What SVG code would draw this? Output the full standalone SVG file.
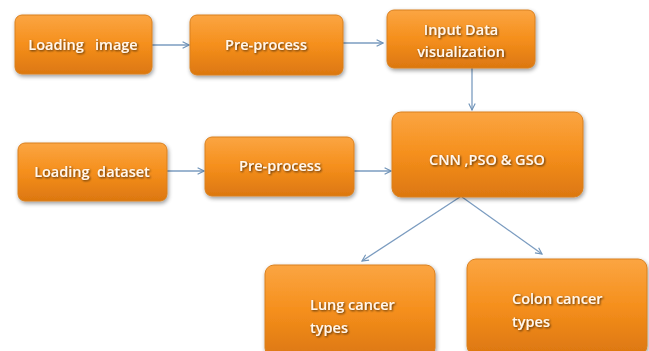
<svg xmlns="http://www.w3.org/2000/svg" width="649" height="351" viewBox="0 0 649 351">
<defs>
<linearGradient id="og" x1="0" y1="0" x2="0" y2="1">
<stop offset="0" stop-color="#fba542"/>
<stop offset="0.5" stop-color="#f58f1c"/>
<stop offset="1" stop-color="#dc7710"/>
</linearGradient>
<filter id="sh" x="-10%" y="-10%" width="125%" height="130%">
<feGaussianBlur in="SourceAlpha" stdDeviation="2"/>
<feOffset dx="1" dy="2" result="b"/>
<feComponentTransfer><feFuncA type="linear" slope="0.4"/></feComponentTransfer>
<feMerge><feMergeNode/><feMergeNode in="SourceGraphic"/></feMerge>
</filter>
<filter id="ts" x="-10%" y="-20%" width="120%" height="150%">
<feGaussianBlur in="SourceAlpha" stdDeviation="0.8"/>
<feOffset dx="0.5" dy="1" result="b"/>
<feComponentTransfer><feFuncA type="linear" slope="0.7"/></feComponentTransfer>
<feMerge><feMergeNode/><feMergeNode in="SourceGraphic"/></feMerge>
</filter>
<marker id="ah" viewBox="0 0 10 10" refX="9" refY="5" markerWidth="8" markerHeight="8" orient="auto" markerUnits="userSpaceOnUse">
<path d="M1,1 L9,5 L1,9" fill="none" stroke="#6f93b8" stroke-width="1.4"/>
</marker>
</defs>
<style>
.box{fill:url(#og);stroke:#d9801f;stroke-width:1;filter:url(#sh)}
.t{font-family:"Open Sans","Liberation Sans",sans-serif;font-size:14.5px;font-weight:600;fill:#fff7ee;filter:url(#ts)}
.c{text-anchor:middle}
.con{stroke:#7b9cc0;stroke-width:1.3;fill:none;marker-end:url(#ah)}
</style>
<rect width="649" height="351" fill="#ffffff"/>
<g id="connectors">
<line class="con" x1="152" y1="45" x2="189" y2="45"/>
<line class="con" x1="343" y1="43" x2="383" y2="43"/>
<line class="con" x1="472" y1="68" x2="472" y2="110"/>
<line class="con" x1="167" y1="171" x2="204" y2="171"/>
<line class="con" x1="354" y1="171" x2="391" y2="171"/>
<line class="con" x1="460" y1="197" x2="362" y2="261"/>
<line class="con" x1="462" y1="197" x2="542" y2="254"/>
</g>
<g id="loading-image">
<rect class="box" x="15" y="15" width="137" height="59" rx="7"/>
<text class="t c" x="83" y="50" xml:space="preserve">Loading   image</text>
</g>
<g id="preprocess-1">
<rect class="box" x="190" y="15" width="153" height="60" rx="7"/>
<text class="t c" x="266" y="50">Pre-process</text>
</g>
<g id="input-data">
<rect class="box" x="387" y="10" width="148" height="58" rx="7"/>
<text class="t c" x="461" y="35">Input Data</text>
<text class="t c" x="461" y="57">visualization</text>
</g>
<g id="loading-dataset">
<rect class="box" x="18" y="143" width="149" height="58" rx="7"/>
<text class="t c" x="92" y="177" xml:space="preserve">Loading  dataset</text>
</g>
<g id="preprocess-2">
<rect class="box" x="205" y="137" width="149" height="59" rx="7"/>
<text class="t c" x="280" y="171">Pre-process</text>
</g>
<g id="cnn">
<rect class="box" x="392" y="112" width="191" height="85" rx="9"/>
<text class="t c" x="487" y="165">CNN ,PSO &amp; GSO</text>
</g>
<g id="lung">
<rect class="box" x="265" y="265" width="170" height="92" rx="9"/>
<text class="t" x="310" y="310">Lung cancer</text>
<text class="t" x="310" y="333">types</text>
</g>
<g id="colon">
<rect class="box" x="467" y="259" width="180" height="96" rx="9"/>
<text class="t" x="512" y="304">Colon cancer</text>
<text class="t" x="512" y="327">types</text>
</g>
</svg>
